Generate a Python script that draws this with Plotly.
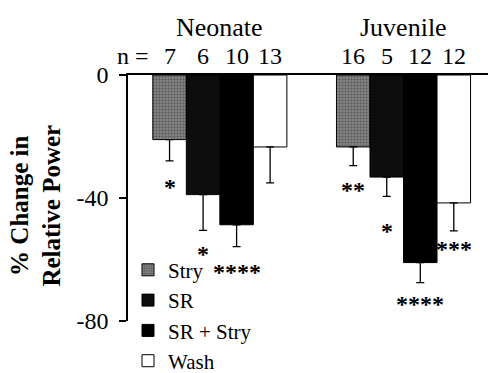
import plotly.graph_objects as go

groups = ["Neonate", "Juvenile"]
series = ["Stry", "SR", "SR + Stry", "Wash"]
means = {
    "Stry": [-21.0, -23.4],
    "SR": [-38.9, -33.2],
    "SR + Stry": [-48.7, -61.0],
    "Wash": [-23.4, -41.6],
}
sem = {
    "Stry": [6.9, 6.1],
    "SR": [11.6, 6.3],
    "SR + Stry": [7.1, 6.5],
    "Wash": [11.7, 9.1],
}
n_counts = {
    "Stry": [7, 16],
    "SR": [6, 5],
    "SR + Stry": [10, 12],
    "Wash": [13, 12],
}
stars = {
    "Stry": ["*", "**"],
    "SR": ["*", "*"],
    "SR + Stry": ["****", "****"],
    "Wash": ["", "***"],
}
star_y = {
    "Stry": [-35.0, -36.0],
    "SR": [-56.8, -49.3],
    "SR + Stry": [-62.7, -73.1],
    "Wash": [0, -55.2],
}
ticks = [0, -40, -80]

FONT = "Times New Roman, Liberation Serif, DejaVu Serif, serif"
fills = {"Stry": "#7a7a7a", "SR": "#0d0d0d", "SR + Stry": "#000000", "Wash": "#ffffff"}

fig = go.Figure()
for s in series:
    kw = {}
    if s == "Stry":
        kw = dict(pattern=dict(shape=".", fgcolor="#2e2e2e", bgcolor="#8e8e8e", size=3, solidity=0.5))
    fig.add_trace(go.Bar(
        x=groups, y=means[s], name=s,
        marker=dict(color=fills[s], line=dict(color="black", width=1), **kw),
        error_y=dict(type="data", symmetric=False, array=[0, 0], arrayminus=sem[s],
                     color="black", thickness=1.3, width=4),
    ))

gap = 0.27
bw = (1 - gap) / len(series)
ann = []
for i, s in enumerate(series):
    off = -(1 - gap) / 2 + bw * (i + 0.5)
    for g in range(2):
        xpos = g + off
        ann.append(dict(x=xpos, y=0, xref="x", yref="y", text=str(n_counts[s][g]),
                        showarrow=False, yanchor="bottom", yshift=4,
                        font=dict(family=FONT, size=24, color="black")))
        if stars[s][g]:
            ann.append(dict(x=xpos, y=star_y[s][g], xref="x", yref="y", text="<b>" + stars[s][g] + "</b>",
                            showarrow=False, yanchor="middle", yshift=-4,
                            font=dict(family=FONT, size=24, color="black")))
for g, name in enumerate(groups):
    ann.append(dict(x=g, y=0, xref="x", yref="y", text=name, showarrow=False,
                    yanchor="bottom", yshift=31, font=dict(family=FONT, size=26, color="black")))
ann.append(dict(x=-0.475, y=0, xref="x", yref="y", text="n =", showarrow=False,
                yanchor="bottom", yshift=4, font=dict(family=FONT, size=24, color="black")))
ann.append(dict(x=-0.255, y=0.47, xref="paper", yref="paper", xanchor="center", yanchor="middle",
                text="<b>% Change in<br>Relative Power</b>",
                textangle=-90, showarrow=False, font=dict(family=FONT, size=25, color="black")))

fig.update_layout(
    width=488, height=373,
    margin=dict(l=128, r=0, t=75, b=52, autoexpand=False),
    paper_bgcolor="white", plot_bgcolor="white",
    barmode="group", bargap=gap, bargroupgap=0,
    showlegend=True,
    font=dict(family=FONT, color="black"),
    legend=dict(x=0.0, y=0.29, xanchor="left", yanchor="top",
                font=dict(family=FONT, size=21, color="black"),
                bgcolor="rgba(0,0,0,0)", tracegroupgap=0, itemwidth=30),
    annotations=ann,
    xaxis=dict(range=[-0.5, 1.46], side="top", showline=True, linecolor="black", linewidth=1.5,
               showticklabels=False, ticks="", showgrid=False, zeroline=False, fixedrange=True),
    yaxis=dict(range=[-80, 0], tickvals=ticks, ticktext=[str(t) for t in ticks],
               showline=True, linecolor="black", linewidth=1.5, ticks="outside", ticklen=7,
               tickwidth=1.5, tickcolor="black", showgrid=False, zeroline=False,
               tickfont=dict(family=FONT, size=24, color="black"), ticklabelstandoff=6),
)
fig.write_html("out.html")
